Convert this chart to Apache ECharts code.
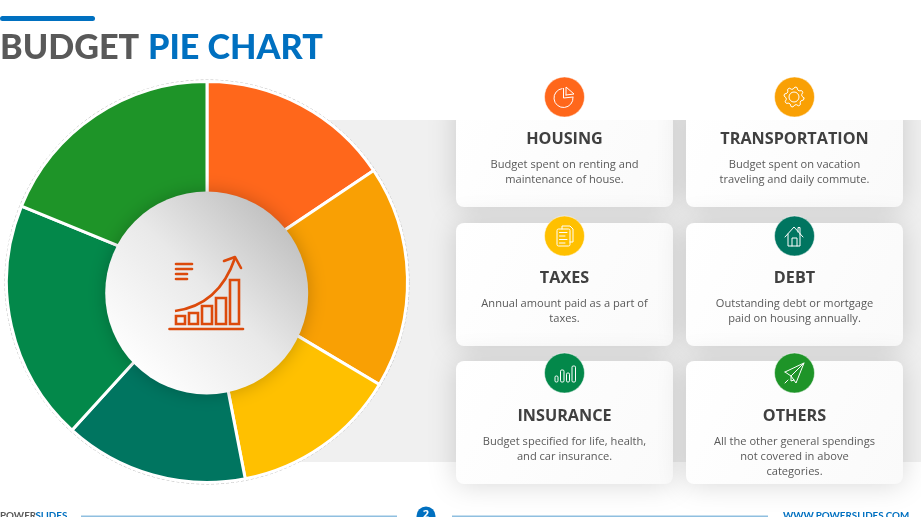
<!DOCTYPE html>
<html><head><meta charset="utf-8">
<style>html,body{margin:0;padding:0;background:#fff;overflow:hidden}#c{width:921px;height:517px}</style>
<script src="https://cdn.jsdelivr.net/npm/echarts@6/dist/echarts.min.js"></script>
</head><body><div id="c"></div>
<script>
const categories=['HOUSING','TRANSPORTATION','TAXES','DEBT','INSURANCE','OTHERS'];
const values=[15.6,17.9,13.4,14.8,19.4,18.8];
const colors=['#FF671B','#F9A004','#FFC000','#007560','#03884A','#1E9428'];
const descriptions=[
 ['Budget spent on renting and','maintenance of house.'],
 ['Budget spent on vacation','traveling and daily commute.'],
 ['Annual amount paid as a part of','taxes.'],
 ['Outstanding debt or mortgage','paid on housing annually.'],
 ['Budget specified for life, health,','and car insurance.'],
 ['All the other general spendings','not covered in above','categories.']
];
const titleParts=['BUDGET','PIE CHART'];
const footerBrand=['POWER','SLIDES'];
const footerSite='WWW.POWERSLIDES.COM';
const pageNo='2';

const BLUE='#0070C0',G=[];
const Z={bg:0,card:1,mask:2,top:10};
const add=(type,shape,style,z)=>G.push({type,shape,style,z:z===undefined?Z.top:z,silent:true});
const line=(pts,stroke,w)=>add('polyline',{points:pts},{stroke,lineWidth:w,fill:null,lineCap:'round',lineJoin:'round'});
const txt=(text,x,y,font,fill,align)=>G.push({type:'text',x,y,z:Z.top,silent:true,style:{text,font,fill,align:align||'left',verticalAlign:'middle'}});

add('rect',{x:207,y:120,width:714,height:342},{fill:'#F0F0F0'},Z.bg);
const colX=[456,686],rows=[[100,207],[223,346],[361,484]],iconY=[97,236,373],titleY=[139.5,278.5,416],descY=[[165,180],[304,319],[441.5,456.5,472]];
categories.forEach((c,i)=>{
 const col=i%2,row=i>>1,x=colX[col],cx=x+108.5;
 add('rect',{x,y:rows[row][0],width:217,height:rows[row][1]-rows[row][0],r:8},
  {fill:new echarts.graphic.LinearGradient(0,0,1,1,[{offset:0,color:'#FFFFFF'},{offset:1,color:'#FAFAFA'}]),shadowBlur:28,shadowColor:'rgba(0,0,0,0.16)'},Z.card);
 txt(c,cx,titleY[row],'700 16.2px "Open Sans"','#404040','center');
 const d=descriptions[i];
 d.forEach((t,k)=>txt(t,cx,(d.length===3?descY[2]:descY[row])[k],'11.1px "Open Sans"','#595959','center'));
 add('circle',{cx,cy:iconY[row],r:20},{fill:colors[i],stroke:'rgba(255,255,255,0.5)',lineWidth:1});
});
add('rect',{x:0,y:0,width:921,height:120},{fill:'#fff'},Z.mask);

add('rect',{x:0,y:16,width:95,height:5,r:2.5},{fill:BLUE});
txt(titleParts[0],0,48,'900 34.2px Lato','#595959');
txt(titleParts[1],148,48,'900 34.2px Lato',BLUE);

add('circle',{cx:207,cy:282,r:202},{fill:null,stroke:'#BDBDBD',lineWidth:1,lineDash:[3,2]},Z.mask);
add('circle',{cx:206.7,cy:293,r:101.5},{
 fill:new echarts.graphic.LinearGradient(0.12,0.88,0.9,0.1,[{offset:0,color:'#FFFFFF'},{offset:0.5,color:'#E9E9E9'},{offset:1,color:'#BDBDBD'}]),
 shadowBlur:18,shadowColor:'rgba(0,0,0,0.22)'});

const O='#DC4A0B',W='#fff',SW=2.6;
line([[169.5,329],[243,329]],O,SW);
[[176,316,9,8],[189,313,9,11],[202,306,10,18],[216,298,10,26],[230,280,9,44]].forEach(b=>add('rect',{x:b[0],y:b[1],width:b[2],height:b[3]},{fill:null,stroke:O,lineWidth:SW}));
add('bezierCurve',{x1:175,y1:311,cpx1:219,cpy1:305,x2:235,y2:258},{stroke:O,lineWidth:SW,fill:null});
line([[224,261],[235,257],[241,268]],O,SW);
line([[176,264],[192,264]],O,SW);line([[176,269],[192,269]],O,SW);line([[176,274],[187,274]],O,SW);line([[176,279],[187,279]],O,SW);

// housing
add('arc',{cx:563.5,cy:98,r:9.5,startAngle:-0.1,endAngle:4.6,clockwise:true},{stroke:W,lineWidth:1,fill:null});
line([[563.5,88.5],[563.5,98],[573,97]],W,1);
line([[566,95],[566,87],[574,94],[566,95]],W,1);
// gear
(function(){const p=[],cx=794,cy=97;for(let i=0;i<32;i++){const a=i/32*2*Math.PI,r=(i%4<2)?10:8;p.push([cx+r*Math.cos(a+0.1),cy+r*Math.sin(a+0.1)]);}p.push(p[0]);line(p,W,1);add('circle',{cx,cy,r:5},{stroke:W,lineWidth:1,fill:null});})();
// taxes
add('rect',{x:557,y:229,width:13,height:17,r:1.5},{stroke:W,lineWidth:1,fill:colors[2]});
line([[562,229],[562,226],[570,226],[573,229],[573,242],[570,242]],W,1);
[232.5,236,239.5,243].forEach((y,i)=>line([[559.5,y],[i%2?565:567,y]],W,1));
// debt
line([[785,237],[794,227],[803,237]],W,1);
line([[788,234],[788,246],[800,246],[800,234]],W,1);
line([[792,246],[792,238],[797,238],[797,246]],W,1);
line([[798,232],[798,227.5],[800,227.5],[800,234]],W,1);
// insurance
[[555,376,3,6],[560.5,370,3.5,12],[566.5,373,3,9],[572,366,3.5,16]].forEach(b=>add('rect',{x:b[0],y:b[1],width:b[2],height:b[3],r:1.2},{stroke:W,lineWidth:1,fill:null}));
// others
line([[785,372],[804,363],[796,383],[791,376],[785,372]],W,1);
line([[804,363],[791,376],[791,381],[794,380]],W,1);
line([[785,383],[788,380]],W,1);

add('rect',{x:81,y:515.5,width:316,height:2},{fill:'#8FBFE0'});
add('rect',{x:452,y:515.5,width:316,height:2},{fill:'#8FBFE0'});
add('circle',{cx:426,cy:516,r:9.5},{fill:BLUE});
txt(pageNo,426,515,'700 11px "Open Sans"','#fff','center');
txt(footerBrand[0],0,515.5,'700 9.8px Lato','#595959');
txt(footerBrand[1],35.5,515.5,'700 9.8px Lato',BLUE);
txt(footerSite,783,515.5,'700 9.8px Lato',BLUE);

const chart=echarts.init(document.getElementById('c'),null,{renderer:'canvas'});
chart.setOption({
 animation:false,
 graphic:{elements:G},
 series:[{type:'pie',z:5,center:[207,282],radius:[60,200.5],startAngle:90,clockwise:true,silent:true,
  label:{show:false},labelLine:{show:false},
  itemStyle:{borderColor:'#fff',borderWidth:3},
  data:categories.map((name,i)=>({name,value:values[i],itemStyle:{color:colors[i]}}))}]
});
</script></body></html>
